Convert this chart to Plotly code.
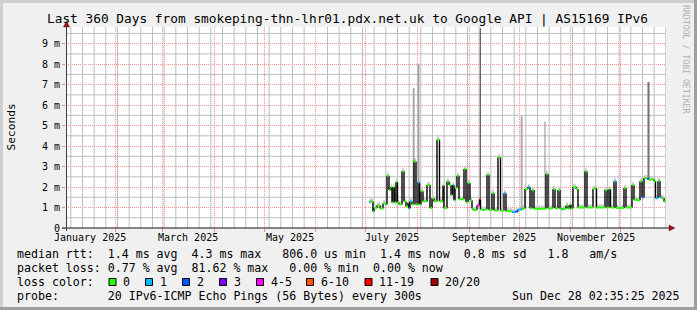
import plotly.graph_objects as go
import pandas as pd

# ---------------- data ----------------
TITLE = "Last 360 Days from smokeping-thn-lhr01.pdx.net.uk to Google API | AS15169 IPv6"
RANGE_START = "2025-01-02 02:35:25"
RANGE_END = "2025-12-28 02:35:25"

# step start times, in days since 2025-01-01 00:00
days = [182.9, 183.5, 185.3, 185.9, 187.7, 189.5, 191.3, 193.1, 193.7, 194.9,
        196.1, 196.7, 197.3, 198.2, 199.1, 200.0, 200.9, 202.7, 203.9, 205.1,
        206.3, 206.9, 207.5, 208.7, 209.9, 211.1, 212.3, 213.2, 214.1, 215.3,
        217.7, 219.5, 220.7, 221.9, 223.7, 225.2, 227.3, 227.9, 229.7, 230.9,
        232.1, 233.0, 233.9, 234.5, 235.7, 236.9, 239.9, 241.1, 242.3, 243.5,
        244.7, 245.3, 247.7, 249.2, 249.8, 251.3, 251.9, 253.7, 254.9, 256.7,
        257.9, 260.3, 261.8, 263.9, 265.1, 268.7, 270.5, 272.3, 274.7, 276.5,
        278.3, 279.5, 280.7, 281.9, 289.1, 290.3, 293.3, 294.5, 296.3, 297.5,
        298.7, 299.3, 301.1, 302.3, 303.5, 304.1, 305.3, 307.1, 308.3, 312.5,
        313.7, 317.3, 318.2, 319.4, 324.5, 325.7, 326.9, 327.8, 329.9, 331.1,
        335.9, 337.1, 340.7, 341.9, 343.7, 345.5, 346.7, 347.9, 349.7, 350.9,
        352.1, 353.9, 354.8, 356.3, 357.5, 358.7, 359.9]
data_end_day = 361.1

# median rtt in milliseconds
median_ms = [1.25, 1.3, 0.81, 0.98, 1.1, 0.95, 1.2, 1.15, 2.55, 1.85,
             2.0, 1.25, 2.0, 1.25, 2.25, 1.25, 1.15, 2.77, 1.3, 1.05,
             1.25, 0.95, 1.3, 1.15, 3.25, 1.15, 2.22, 1.15, 1.8, 1.3,
             2.1, 0.98, 1.45, 1.3, 4.31, 1.3, 2.08, 0.97, 2.27, 2.1,
             1.6, 2.1, 1.35, 1.95, 2.55, 1.4, 2.88, 1.26, 2.2, 1.35,
             0.95, 0.88, 1.1, 1.4, 0.9, 0.88, 0.9, 2.6, 0.88, 1.7,
             0.85, 3.45, 0.85, 1.7, 0.82, 0.78, 0.8, 0.9, 0.95, 1.9,
             2.0, 0.96, 1.85, 0.94, 2.64, 0.96, 1.9, 0.96, 1.85, 0.94,
             0.9, 0.94, 1.1, 0.95, 1.15, 0.95, 2.0, 1.9, 1.0, 2.77,
             1.0, 1.9, 1.95, 1.0, 1.85, 1.0, 1.9, 1.0, 2.28, 0.98,
             1.95, 1.0, 2.1, 1.38, 1.35, 2.28, 1.5, 2.44, 2.4, 2.35,
             2.38, 2.28, 1.45, 2.3, 1.5, 1.45, 1.3]

# loss category index per step (0 = "0", 1 = "1", 2 = "2", ..., 6 = "11-19")
loss_idx = [1, 0, 0, 0, 0, 0, 0, 0, 0, 0,
            0, 0, 0, 0, 0, 0, 0, 0, 0, 0,
            0, 1, 1, 0, 0, 0, 1, 0, 0, 0,
            0, 0, 0, 0, 0, 0, 0, 0, 0, 0,
            0, 1, 0, 0, 0, 0, 0, 0, 0, 0,
            0, 0, 4, 6, 0, 1, 0, 0, 0, 0,
            0, 0, 0, 1, 0, 1, 2, 1, 0, 0,
            1, 0, 0, 0, 0, 0, 0, 0, 0, 0,
            1, 0, 0, 0, 0, 0, 0, 0, 0, 0,
            0, 0, 0, 0, 0, 0, 0, 0, 1, 0,
            0, 0, 0, 0, 0, 0, 2, 0, 2, 0,
            0, 0, 1, 0, 1, 0, 0]

# smoke outliers (max ping) in ms
spike_days = [209.7, 212.6, 249.7, 274.5, 288.5, 350.6]
spike_base_ms = [1.3, 2.2, 1.4, 0.9, 1.0, 2.4]
spike_top_ms = [6.84, 8.02, 9.76, 5.45, 5.2, 7.13]

loss_labels = ["0", "1", "2", "3", "4-5", "6-10", "11-19", "20/20"]

month_labels = ["January 2025", "March 2025", "May 2025", "July 2025",
                "September 2025", "November 2025"]
month_label_days = [15.5, 74.5, 135.5, 196.5, 258.0, 319.0]

y_label_alias = {"1": "1 m", "2": "2 m", "3": "3 m", "4": "4 m", "5": "5 m",
                 "6": "6 m", "7": "7 m", "8": "8 m", "9": "9 m"}
y_minor = [0.5, 1.5, 2.5, 3.5, 4.5, 5.5, 6.5, 7.5, 8.5, 9.5]
week_first, week_last = "2025-01-05", "2025-12-28"

stat_lines = [
    "median rtt:  1.4 ms avg  4.3 ms max   806.0 us min  1.4 ms now  0.8 ms sd   1.8   am/s",
    "packet loss: 0.77 % avg  81.62 % max   0.00 % min  0.00 % now",
    "loss color:",
    "probe:       20 IPv6-ICMP Echo Pings (56 Bytes) every 300s",
]
stamp = "Sun Dec 28 02:35:25 2025"

# ---------------- styles ----------------
loss_colors = ["#26ff00", "#00b8ff", "#0059ff", "#7e00ff", "#ff00ff", "#ff5500", "#ff0000", "#a10000"]
spike_colors = ["#a8a8a8", "#a2a2a2", "#444444", "#ababab", "#8e8e8e", "#707070"]
spike_widths = [2, 2, 1, 2, 1, 2]
MONO = "DejaVu Sans Mono"
W, H = 697, 310
L, T, PW, PH = 66, 27, 600, 201
PX_PER_MS = 20.48
YMAX = PH / PX_PER_MS
HALO = 0.15
MAJ = "rgba(255,70,70,0.6)"
MIN = "#bdbdbd"

def px(x):
    return (x - L) / PW

def py(y):
    return (T + PH - y) / PH

base = pd.Timestamp("2025-01-01")

def to_date(d):
    return (base + pd.Timedelta(days=d)).strftime("%Y-%m-%d %H:%M:%S")

xd = [to_date(d) for d in days]
xs_step = xd + [to_date(data_end_day)]
ys_step = median_ms + [median_ms[-1]]
n = len(days)

fig = go.Figure()

# minor grid (weekly vertical, half-ms horizontal)
weeks = [w for w in pd.date_range(week_first, week_last, freq="7D") if w.day != 1]
gx, gy = [], []
for w in weeks:
    s = w.strftime("%Y-%m-%d %H:%M:%S")
    gx += [s, s, None]
    gy += [0.0, YMAX, None]
for v in y_minor:
    gx += [RANGE_START, RANGE_END, None]
    gy += [v, v, None]
fig.add_trace(go.Scatter(x=gx, y=gy, mode="lines", line=dict(color=MIN, width=1),
                         hoverinfo="skip", showlegend=False))

# light smoke halo
fig.add_trace(go.Scatter(x=xs_step, y=ys_step, mode="lines",
                         line=dict(width=0, shape="hv"), hoverinfo="skip", showlegend=False))
fig.add_trace(go.Scatter(x=xs_step, y=[v + HALO for v in ys_step], mode="lines",
                         line=dict(width=0, shape="hv"), fill="tonexty", fillcolor="#d0d0d0",
                         hoverinfo="skip", showlegend=False))

# smoke spikes
for d, b, t, c, w in zip(spike_days, spike_base_ms, spike_top_ms, spike_colors, spike_widths):
    fig.add_trace(go.Scatter(x=[to_date(d), to_date(d)], y=[b, t], mode="lines",
                             line=dict(color=c, width=w), hoverinfo="skip", showlegend=False))

# vertical transitions of the median (black)
vx, vy = [], []
for i in range(1, n):
    vx += [xd[i], xd[i], None]
    vy += [median_ms[i - 1], median_ms[i], None]
fig.add_trace(go.Scatter(x=vx, y=vy, mode="lines", line=dict(color="#000000", width=1.4),
                         hoverinfo="skip", showlegend=False))

# horizontal median segments coloured by loss
for k, col in enumerate(loss_colors):
    hx, hy = [], []
    for i in range(n):
        if loss_idx[i] == k:
            hx += [xs_step[i], xs_step[i + 1], None]
            hy += [median_ms[i], median_ms[i], None]
    if hx:
        fig.add_trace(go.Scatter(x=hx, y=hy, mode="lines", line=dict(color=col, width=2),
                                 hoverinfo="skip", showlegend=False))

shapes = []
# frame
shapes += [
    dict(type="rect", xref="paper", yref="paper", x0=px(0), x1=px(W), y0=py(0), y1=py(3),
         fillcolor="#cfcfcf", line=dict(width=0), layer="above"),
    dict(type="rect", xref="paper", yref="paper", x0=px(0), x1=px(3), y0=py(0), y1=py(H),
         fillcolor="#cfcfcf", line=dict(width=0), layer="above"),
    dict(type="rect", xref="paper", yref="paper", x0=px(0), x1=px(W), y0=py(H - 3), y1=py(H),
         fillcolor="#9e9e9e", line=dict(width=0), layer="above"),
    dict(type="rect", xref="paper", yref="paper", x0=px(W - 3), x1=px(W), y0=py(0), y1=py(H),
         fillcolor="#9e9e9e", line=dict(width=0), layer="above"),
]
# axes lines and arrows
shapes += [
    dict(type="line", xref="paper", yref="paper", x0=px(62), x1=px(671), y0=py(228), y1=py(228),
         line=dict(color="#101010", width=1.2), layer="above"),
    dict(type="line", xref="paper", yref="paper", x0=px(66.5), x1=px(66.5), y0=py(231), y1=py(25),
         line=dict(color="#404040", width=1), layer="above"),
    dict(type="path", xref="paper", yref="paper",
         path="M {} {} L {} {} L {} {} Z".format(px(66.5), py(21), px(63.5), py(27), px(69.5), py(27)),
         fillcolor="#8a1515", line=dict(color="#8a1515", width=0.5), layer="above"),
    dict(type="path", xref="paper", yref="paper",
         path="M {} {} L {} {} L {} {} Z".format(px(675), py(228), px(669), py(225), px(669), py(231)),
         fillcolor="#8a1515", line=dict(color="#8a1515", width=0.5), layer="above"),
]

annotations = []
annotations.append(dict(text=TITLE, x=px(347.5), y=py(19), xref="paper", yref="paper",
                        showarrow=False, xanchor="center", yanchor="middle",
                        font=dict(family=MONO, size=12.8, color="#000000")))
annotations.append(dict(text="Seconds", x=px(11), y=py(127.5), xref="paper", yref="paper",
                        showarrow=False, textangle=-90, xanchor="center", yanchor="middle",
                        font=dict(family=MONO, size=11.2, color="#000000")))
annotations.append(dict(text="RRDTOOL / TOBI OETIKER", x=px(686), y=py(59), xref="paper", yref="paper",
                        showarrow=False, textangle=90, xanchor="center", yanchor="middle",
                        font=dict(family=MONO, size=8.2, color="#b0b0b0")))
for lab, d in zip(month_labels, month_label_days):
    annotations.append(dict(text=lab, x=to_date(d), y=py(237.5), xref="x", yref="paper",
                            showarrow=False, xanchor="center", yanchor="middle",
                            font=dict(family=MONO, size=10, color="#000000")))
line_y = [254, 268, 282, 296]
for txt, yy in zip(stat_lines, line_y):
    annotations.append(dict(text=txt.replace(" ", "\u00a0"), x=px(15), y=py(yy), xref="paper", yref="paper",
                            showarrow=False, xanchor="left", yanchor="middle",
                            font=dict(family=MONO, size=11.6, color="#000000")))
annotations.append(dict(text=stamp.replace(" ", "\u00a0"), x=px(682), y=py(296), xref="paper", yref="paper",
                        showarrow=False, xanchor="right", yanchor="middle",
                        font=dict(family=MONO, size=11.6, color="#000000")))
box_cx = [112.5, 149, 186, 223, 260, 310, 368.5, 434.5]
for lab, col, cx in zip(loss_labels, loss_colors, box_cx):
    shapes.append(dict(type="rect", xref="paper", yref="paper",
                       x0=px(cx - 3.5), x1=px(cx + 3.5), y0=py(278.5), y1=py(285.5),
                       fillcolor=col, line=dict(color="#000000", width=1), layer="above"))
    annotations.append(dict(text=lab, x=px(cx + 8.5), y=py(282), xref="paper", yref="paper",
                            showarrow=False, xanchor="left", yanchor="middle",
                            font=dict(family=MONO, size=11.6, color="#000000")))

fig.update_layout(
    width=W, height=H,
    margin=dict(l=L, r=W - L - PW, t=T, b=H - T - PH, pad=0),
    paper_bgcolor="#f0f0f0", plot_bgcolor="#ffffff",
    showlegend=False,
    xaxis=dict(type="date", range=[RANGE_START, RANGE_END],
               tickmode="linear", tick0="2025-01-01", dtick="M1", showticklabels=False,
               showgrid=True, gridcolor=MAJ, griddash="1px,1px", gridwidth=1,
               ticks="outside", ticklen=3, tickcolor=MAJ, zeroline=False, showline=False,
               fixedrange=True),
    yaxis=dict(range=[0, YMAX], tickmode="linear", tick0=0, dtick=1, labelalias=y_label_alias,
               showgrid=True, gridcolor=MAJ, griddash="1px,1px", gridwidth=1,
               ticks="outside", ticklen=3, tickcolor=MAJ, zeroline=False, showline=False,
               tickfont=dict(family=MONO, size=10, color="#000000"),
               fixedrange=True),
    shapes=shapes, annotations=annotations,
)

fig.write_html("out.html", config={"displayModeBar": False})
